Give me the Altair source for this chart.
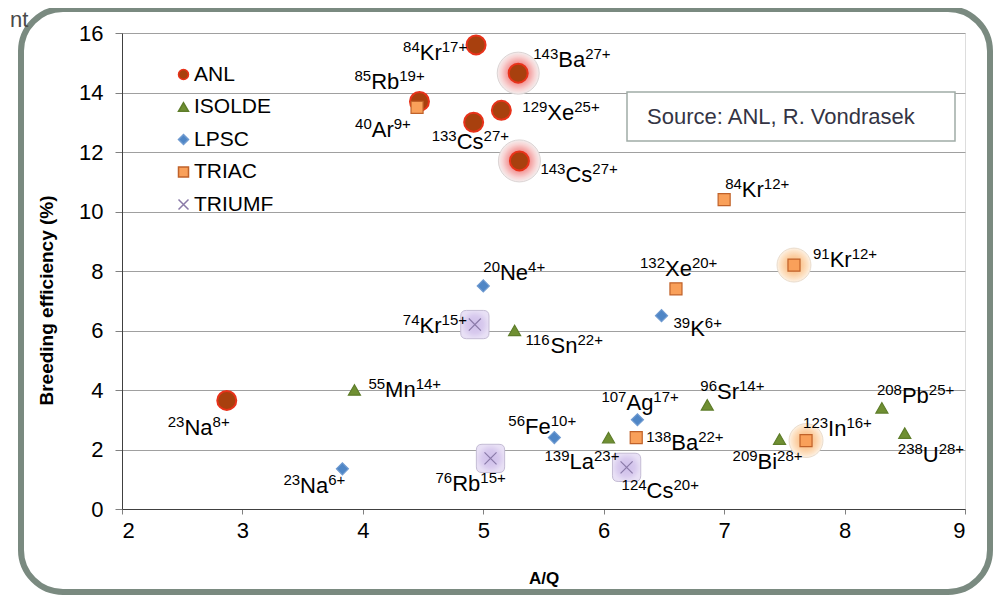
import altair as alt
import pandas as pd

FONT = "Liberation Sans"
SERIES = ["ANL", "ISOLDE", "LPSC", "TRIAC", "TRIUMF"]

# ---- data ----
anl_mass = [84, 143, 85, 129, 133, 143, 23]
anl_elem = ["Kr", "Ba", "Rb", "Xe", "Cs", "Cs", "Na"]
anl_charge = [17, 27, 19, 25, 27, 27, 8]
anl_aq = [4.94, 5.29, 4.47, 5.15, 4.92, 5.30, 2.87]
anl_eff = [15.6, 14.65, 13.7, 13.4, 13.0, 11.7, 3.65]
anl_glow = [False, True, False, False, False, True, False]

isolde_mass = [116, 55, 139, 96, 209, 208, 238]
isolde_elem = ["Sn", "Mn", "La", "Sr", "Bi", "Pb", "U"]
isolde_charge = [22, 14, 23, 14, 28, 25, 28]
isolde_aq = [5.26, 3.93, 6.04, 6.86, 7.46, 8.31, 8.50]
isolde_eff = [6.0, 4.0, 2.4, 3.5, 2.35, 3.4, 2.55]
isolde_glow = [False] * 7

lpsc_mass = [20, 39, 23, 56, 107]
lpsc_elem = ["Ne", "K", "Na", "Fe", "Ag"]
lpsc_charge = [4, 6, 6, 10, 17]
lpsc_aq = [5.00, 6.48, 3.83, 5.59, 6.28]
lpsc_eff = [7.5, 6.5, 1.35, 2.4, 3.0]
lpsc_glow = [False] * 5

triac_mass = [40, 84, 132, 91, 138, 123]
triac_elem = ["Ar", "Kr", "Xe", "Kr", "Ba", "In"]
triac_charge = [9, 12, 20, 12, 22, 16]
triac_aq = [4.45, 7.00, 6.60, 7.58, 6.27, 7.68]
triac_eff = [13.5, 10.4, 7.4, 8.2, 2.4, 2.3]
triac_glow = [False, False, False, True, False, True]

triumf_mass = [74, 76, 124]
triumf_elem = ["Kr", "Rb", "Cs"]
triumf_charge = [15, 15, 20]
triumf_aq = [4.93, 5.06, 6.19]
triumf_eff = [6.2, 1.7, 1.4]
triumf_glow = [True, True, True]

x_ticks = [2, 3, 4, 5, 6, 7, 8, 9]
y_ticks = [0, 2, 4, 6, 8, 10, 12, 14, 16]

# ---- label placement (pixel offsets from the point to the label's left baseline) ----
label_offsets = {
    "ANL": [(-73, 15), (15, -6), (-65, -12), (21, 10), (-42, 27), (21, 21), (-59, 35)],
    "ISOLDE": [(11, 22), (14, 7), (-64, 31), (-7, -6), (-47, 30), (-5, -5), (-7, 29)],
    "LPSC": [(0, -6), (12, 20), (-59, 24), (-46, -4), (-36, -10)],
    "TRIAC": [(-62, 30), (1, -3), (-36, -13), (19, 2), (10, 12), (-3, -5)],
    "TRIUMF": [(-72, 8), (-55, 33), (-5, 31)],
}

W, H = 843, 476
PXX = W / 7.0
PXY = H / 16.0
MAIN_FS = 22
SUP_FS = 15

AW = {'0': 556, '1': 556, '2': 556, '3': 556, '4': 556, '5': 556, '6': 556, '7': 556,
      '8': 556, '9': 556, '+': 584, 'K': 667, 'r': 333, 'B': 667, 'a': 556, 'R': 722,
      'b': 556, 'X': 667, 'e': 556, 'C': 722, 's': 500, 'N': 722, 'A': 667, 'M': 833,
      'n': 556, 'S': 667, 'F': 611, 'L': 556, 'g': 556, 'P': 667, 'U': 722, 'I': 278,
      'i': 222, 'l': 222}


def tw(s, size):
    return sum(AW.get(c, 556) for c in s) * size / 1000.0


groups = {
    "ANL": (anl_mass, anl_elem, anl_charge, anl_aq, anl_eff, anl_glow),
    "ISOLDE": (isolde_mass, isolde_elem, isolde_charge, isolde_aq, isolde_eff, isolde_glow),
    "LPSC": (lpsc_mass, lpsc_elem, lpsc_charge, lpsc_aq, lpsc_eff, lpsc_glow),
    "TRIAC": (triac_mass, triac_elem, triac_charge, triac_aq, triac_eff, triac_glow),
    "TRIUMF": (triumf_mass, triumf_elem, triumf_charge, triumf_aq, triumf_eff, triumf_glow),
}

pts = []
txt = []
for s in SERIES:
    m, e, c, xs, ys, g = groups[s]
    for i in range(len(m)):
        pts.append({"series": s, "aq": xs[i], "eff": ys[i], "glow": g[i]})
        dx, dy = label_offsets[s][i]
        ly = ys[i] - dy / PXY
        ms = str(m[i])
        cs = f"{c[i]}+"
        x0 = dx
        x1 = x0 + tw(ms, SUP_FS)
        x2 = x1 + tw(e[i], MAIN_FS)
        txt.append({"lx": xs[i] + x0 / PXX, "ly": ly, "t": ms, "kind": "sup"})
        txt.append({"lx": xs[i] + x1 / PXX, "ly": ly, "t": e[i], "kind": "main"})
        txt.append({"lx": xs[i] + x2 / PXX, "ly": ly, "t": cs, "kind": "sup"})

pts_df = pd.DataFrame(pts)
txt_df = pd.DataFrame(txt)
one = pd.DataFrame({"k": [0]})

xscale = alt.Scale(domain=[2, 9], nice=False, zero=False)
yscale = alt.Scale(domain=[0, 16], nice=False)

X = alt.X("aq:Q", scale=xscale, title="A/Q",
          axis=alt.Axis(values=x_ticks, format="d", grid=False, tickSize=5, labelPadding=6,
                        labelFontSize=22, labelFont=FONT, labelColor="#000000",
                        domainColor="#404040", tickColor="#808080",
                        titleFont=FONT, titleFontSize=17, titleFontWeight="bold",
                        titleColor="#000000", titleY=69, titleBaseline="middle"))
Y = alt.Y("eff:Q", scale=yscale, title="Breeding efficiency (%)",
          axis=alt.Axis(values=y_ticks, format="d", grid=True, gridColor="#a0a0a0", gridWidth=1,
                        tickSize=7, labelPadding=12, labelFontSize=22, labelFont=FONT,
                        labelColor="#000000", domainColor="#404040", tickColor="#808080",
                        titleFont=FONT, titleFontSize=19, titleFontWeight="bold",
                        titleColor="#000000", titleX=-76, titleY=267,
                        titleAlign="center", titleBaseline="middle", titleAngle=-90))

XT = alt.X("lx:Q", scale=xscale)
YT = alt.Y("ly:Q", scale=yscale)

# frame and source box
frame = alt.Chart(one).mark_rect(fill="transparent", stroke="#7a8a80", strokeWidth=6,
                                 cornerRadius=42).encode(
    x=alt.value(-101), x2=alt.value(868), y=alt.value(-24), y2=alt.value(559))
nt = alt.Chart(one).mark_text(text="nt", align="left", baseline="alphabetic", fontSize=22,
                              font=FONT, color="#4a4a4a").encode(
    x=alt.value(-112), y=alt.value(-6))
box = alt.Chart(one).mark_rect(fill="white", stroke="#a0aca6", strokeWidth=1.5).encode(
    x=alt.value(505), x2=alt.value(833), y=alt.value(59), y2=alt.value(108))
src = alt.Chart(one).mark_text(text="Source: ANL, R. Vondrasek", align="left",
                               baseline="middle", fontSize=22, font=FONT,
                               color="#343444").encode(x=alt.value(525), y=alt.value(84))

# glow halos
anl_glow_grad = alt.RadialGradient(gradient="radial", stops=[
    alt.GradientStop(color="#ee4a4a", offset=0),
    alt.GradientStop(color="#f39a9a", offset=0.5),
    alt.GradientStop(color="#f8d4d4", offset=0.8),
    alt.GradientStop(color="#f3eeee", offset=1)])
triac_glow_grad = alt.RadialGradient(gradient="radial", stops=[
    alt.GradientStop(color="#f9b070", offset=0),
    alt.GradientStop(color="#fcd0a4", offset=0.55),
    alt.GradientStop(color="#fde6cc", offset=0.85),
    alt.GradientStop(color="#fcf2e6", offset=1)])
triumf_glow_grad = alt.RadialGradient(gradient="radial", stops=[
    alt.GradientStop(color="#cdbde9", offset=0),
    alt.GradientStop(color="#d8caee", offset=0.6),
    alt.GradientStop(color="#e8e0f5", offset=1)])
ROUND_SQ = ("M-0.6,-1L0.6,-1Q1,-1 1,-0.6L1,0.6Q1,1 0.6,1L-0.6,1Q-1,1 -1,0.6"
            "L-1,-0.6Q-1,-1 -0.6,-1Z")

glow_base = alt.Chart(pts_df).transform_filter("datum.glow")
g_anl = glow_base.transform_filter("datum.series == 'ANL'").mark_point(
    shape="circle", size=1764, filled=True, fill=anl_glow_grad, stroke="#dcd4d4",
    strokeWidth=1, opacity=1).encode(x=X, y=Y)
g_triac = glow_base.transform_filter("datum.series == 'TRIAC'").mark_point(
    shape="circle", size=1150, filled=True, fill=triac_glow_grad, stroke="#eadccc",
    strokeWidth=1, opacity=1).encode(x=X, y=Y)
g_triumf = glow_base.transform_filter("datum.series == 'TRIUMF'").mark_point(
    shape=ROUND_SQ, size=800, filled=True, fill=triumf_glow_grad, stroke="#c4bcd4",
    strokeWidth=1, opacity=1).encode(x=X, y=Y)

# points
X_PATH = "M-1,-1L1,1M-1,1L1,-1"
leg = alt.Legend(title=None, orient="none", legendX=51, legendY=31, padding=0,
                 symbolSize=100, symbolStrokeWidth=1.5, labelFontSize=21, labelFont=FONT,
                 labelColor="#000000", rowPadding=10.5, labelOffset=0)
fill_enc = alt.Fill("series:N", scale=alt.Scale(domain=SERIES, range=[
    "#a8400e", "#6f8f32", "#4f86c6", "#f9a05a", "transparent"]), legend=leg)
stroke_enc = alt.Stroke("series:N", scale=alt.Scale(domain=SERIES, range=[
    "#e8321a", "#5e7d2a", "#6f9ad0", "#c0622a", "#8a7aa8"]), legend=leg)
shape_enc = alt.Shape("series:N", scale=alt.Scale(domain=SERIES, range=[
    "circle", "triangle-up", "diamond", "square", X_PATH]), legend=leg)

p_anl = alt.Chart(pts_df).transform_filter("datum.series == 'ANL'").mark_point(
    size=361, strokeWidth=2, opacity=1).encode(
    x=X, y=Y, fill=fill_enc, stroke=stroke_enc, shape=shape_enc)
p_other = alt.Chart(pts_df).transform_filter("datum.series != 'ANL'").mark_point(
    size=145, strokeWidth=1.2, opacity=1).encode(
    x=X, y=Y, fill=fill_enc, stroke=stroke_enc, shape=shape_enc)

# labels
t_main = alt.Chart(txt_df).transform_filter("datum.kind == 'main'").mark_text(
    align="left", baseline="alphabetic", fontSize=MAIN_FS, font=FONT, color="#000000").encode(
    x=XT, y=YT, text="t:N")
t_sup = alt.Chart(txt_df).transform_filter("datum.kind == 'sup'").mark_text(
    align="left", baseline="alphabetic", fontSize=SUP_FS, font=FONT, color="#000000",
    dy=-8).encode(x=XT, y=YT, text="t:N")

chart = alt.layer(frame, nt, box, src, g_anl, g_triac, g_triumf, p_anl, p_other,
                  t_main, t_sup).properties(
    width=W, height=H,
    autosize=alt.AutoSizeParams(type="none"),
    padding={"left": 114, "top": 25, "right": 29, "bottom": 87},
).configure_view(stroke="#a0a0a0", strokeWidth=1).configure(background="white")

chart.save("out.html", embed_options={"renderer": "svg", "actions": False})
